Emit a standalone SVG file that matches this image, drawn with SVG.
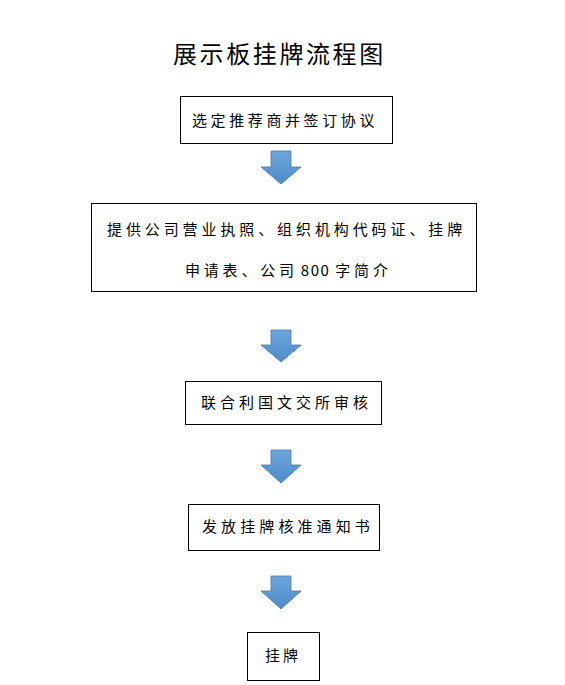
<svg xmlns="http://www.w3.org/2000/svg" width="565" height="685" viewBox="0 0 565 685">
<style>
.box{fill:#fff;stroke:#000;stroke-width:1}
.t{font-family:"Noto Sans CJK SC","Noto Sans",sans-serif;font-size:15px;fill:#000}
.title{font-family:"Noto Sans CJK SC","Noto Sans",sans-serif;font-size:24px;fill:#000}
.arr{fill:url(#g);stroke:#4a7ab0;stroke-width:0.8}
</style>
<defs>
<linearGradient id="g" x1="0" y1="0" x2="0" y2="1">
<stop offset="0" stop-color="#6ea6dd"/>
<stop offset="1" stop-color="#4d8bc9"/>
</linearGradient>
</defs>
<rect width="565" height="685" fill="#fff"/>
<text class="title" x="173" y="63" letter-spacing="2.6">展示板挂牌流程图</text>
<g id="connectors">
<polygon class="arr" points="271,151 291,151 291,167 301,167 281,184 261,167 271,167"/>
<polygon class="arr" points="271,330 291,330 291,345 301,345 281,362 261,345 271,345"/>
<polygon class="arr" points="271,450 291,450 291,465 301,465 281,483 261,465 271,465"/>
<polygon class="arr" points="271,576 291,576 291,591 301,591 281,609 261,591 271,591"/>
</g>
<g id="n1">
<rect class="box" x="180.5" y="96.5" width="212" height="47"/>
<text class="t" x="192" y="125.5" letter-spacing="3.6">选定推荐商并签订协议</text>
</g>
<g id="n2">
<rect class="box" x="91.5" y="203.5" width="385" height="88"/>
<text class="t" x="107" y="235" letter-spacing="3.9">提供公司营业执照、组织机构代码证、挂牌</text>
<text class="t" x="185" y="276" letter-spacing="3.8">申请表、公司<tspan dx="3" letter-spacing="1.5">800</tspan><tspan dx="5">字简介</tspan></text>
</g>
<g id="n3">
<rect class="box" x="185.5" y="381.5" width="196" height="43"/>
<text class="t" x="201" y="408" letter-spacing="4">联合利国文交所审核</text>
</g>
<g id="n4">
<rect class="box" x="188.5" y="504.5" width="191" height="46"/>
<text class="t" x="202" y="532" letter-spacing="4.1">发放挂牌核准通知书</text>
</g>
<g id="n5">
<rect class="box" x="247.5" y="632.5" width="72" height="48"/>
<text class="t" x="265" y="661" letter-spacing="3">挂牌</text>
</g>
</svg>
